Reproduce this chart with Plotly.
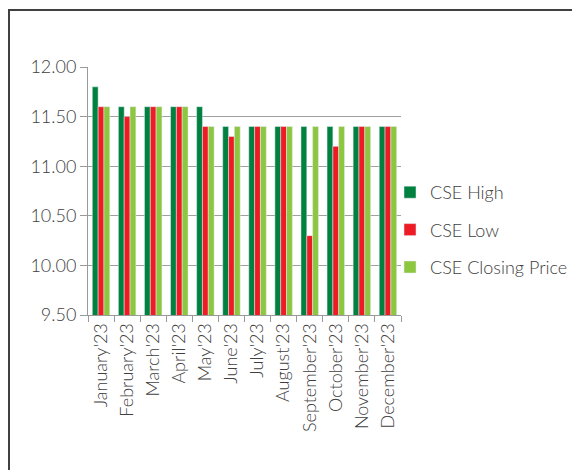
import plotly.graph_objects as go

months = ["January'23", "February'23", "March'23", "April'23", "May'23", "June'23",
          "July'23", "August'23", "September'23", "October'23", "November'23", "December'23"]
cse_high = [11.8, 11.6, 11.6, 11.6, 11.6, 11.4, 11.4, 11.4, 11.4, 11.4, 11.4, 11.4]
cse_low = [11.6, 11.5, 11.6, 11.6, 11.4, 11.3, 11.4, 11.4, 10.3, 11.2, 11.4, 11.4]
cse_close = [11.6, 11.6, 11.6, 11.6, 11.4, 11.4, 11.4, 11.4, 11.4, 11.4, 11.4, 11.4]

OFF = 8  # page body margin
W, H = 580 - OFF, 470 - OFF
# plot area in screenshot pixels: x 88..401, y 67..315
L, T = 88 - OFF, 67 - OFF
R, B = W - (401 - OFF), H - (315 - OFF)
pw, ph = W - L - R, H - T - B

def px2x(px):
    return (px - OFF - L) / pw

def py2y(py):
    return (H - B - (py - OFF)) / ph

fig = go.Figure()
fig.add_trace(go.Bar(x=months, y=cse_high, name="CSE High", marker_color="#00813F",
                     legendgroup="a"))
fig.add_trace(go.Bar(x=months, y=cse_low, name="CSE Low", marker_color="#ED1C24",
                     legendgroup="b"))
fig.add_trace(go.Bar(x=months, y=cse_close, name="CSE Closing Price", marker_color="#8DC63F",
                     legendgroup="c"))

font = "'Lato Light', Lato, 'Open Sans', sans-serif"
fig.update_layout(
    width=W, height=H,
    margin=dict(l=L, r=R, t=T, b=B, pad=0, autoexpand=False),
    paper_bgcolor="white", plot_bgcolor="white",
    barmode="group", bargap=0.33, bargroupgap=0,
    font=dict(family=font, size=18, color="#404040"),
    showlegend=True,
    legend=dict(x=px2x(390), y=py2y(174), xanchor="left", yanchor="top",
                font=dict(size=18, color="#404040"), tracegroupgap=11,
                itemwidth=30, bgcolor="rgba(0,0,0,0)"),
    xaxis=dict(showline=True, linecolor="#9a9a9a", linewidth=1, ticks="outside",
               tickson="boundaries", ticklen=6, tickcolor="#9a9a9a", tickangle=-90,
               tickfont=dict(size=18), showgrid=False, automargin=False),
    yaxis=dict(range=[9.5, 12.0], dtick=0.5, tickformat=".2f", showline=True,
               linecolor="#9a9a9a", linewidth=1, ticks="outside", ticklen=7,
               tickcolor="#9a9a9a", gridcolor="#a0a0a0", gridwidth=1,
               tickfont=dict(size=18), zeroline=False, automargin=False),
    shapes=[dict(type="path", xref="paper", yref="paper",
                 path=f"M {px2x(9)} {py2y(490)} L {px2x(9)} {py2y(10)} L {px2x(600)} {py2y(10)}",
                 line=dict(color="#404040", width=2))],
)
fig.write_html("out.html")
